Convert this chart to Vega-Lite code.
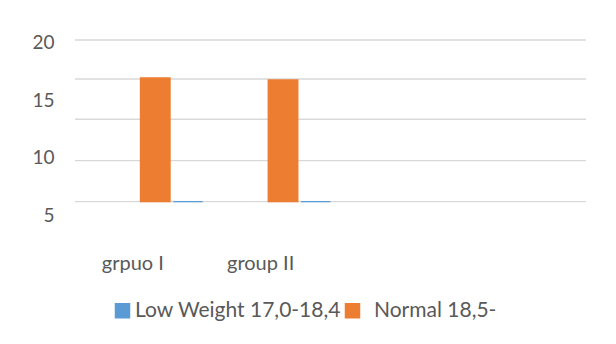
{
  "$schema": "https://vega.github.io/schema/vega-lite/v6.json",
  "width": 511,
  "height": 175,
  "autosize": {"type": "none"},
  "padding": {"left": 75, "top": 40, "right": 30, "bottom": 129},
  "background": "white",
  "config": {"view": {"stroke": null}, "font": "Lato"},
  "layer": [
    {
      "data": {"values": [{"grid": 20.23}, {"grid": 16.84}, {"grid": 13.33}, {"grid": 9.73}, {"grid": 6.16}]},
      "mark": {"type": "rule", "color": "#d9d9d9", "strokeWidth": 1.4},
      "encoding": {
        "y": {
          "field": "grid",
          "type": "quantitative",
          "scale": {"domain": [5, 20.23], "nice": false, "zero": false},
          "axis": {"values": [5, 10, 15, 20], "grid": false, "domain": false, "ticks": false, "tickSize": 0, "labelPadding": 21, "labelFontSize": 19, "labelColor": "#595959", "title": null}
        }
      }
    },
    {
      "data": {
        "values": [
          {"group": "grpuo I", "series": "Low Weight 17,0-18,4", "value": 6.16},
          {"group": "grpuo I", "series": "Normal 18,5-", "value": 16.92},
          {"group": "group II", "series": "Low Weight 17,0-18,4", "value": 6.16},
          {"group": "group II", "series": "Normal 18,5-", "value": 16.75}
        ]
      },
      "mark": {"type": "bar", "strokeWidth": 1.4},
      "encoding": {
        "x": {
          "field": "group",
          "type": "nominal",
          "sort": null,
          "scale": {"domain": ["grpuo I", "group II", " ", "  "], "paddingInner": 0, "paddingOuter": 0},
          "axis": {"title": null, "domain": false, "ticks": false, "tickSize": 0, "labelPadding": 38, "labelFontSize": 20, "labelColor": "#595959", "labelOffset": -6, "labelAngle": 0}
        },
        "xOffset": {
          "field": "series",
          "type": "nominal",
          "scale": {"domain": [" a", " b", "Normal 18,5-", "Low Weight 17,0-18,4"], "paddingInner": 0.1, "paddingOuter": 0}
        },
        "y": {
          "field": "value",
          "type": "quantitative",
          "scale": {"domain": [5, 20.23], "nice": false, "zero": false},
          "axis": {"values": [5, 10, 15, 20], "grid": false, "domain": false, "ticks": false, "tickSize": 0, "labelPadding": 21, "labelFontSize": 19, "labelColor": "#595959", "title": null}
        },
        "y2": {"datum": 6.16},
        "fill": {
          "field": "series",
          "type": "nominal",
          "scale": {"domain": ["Low Weight 17,0-18,4", "Normal 18,5-"], "range": ["#5b9bd5", "#ed7d31"]},
          "legend": {
            "title": null,
            "orient": "none",
            "legendX": 37,
            "legendY": 260,
            "direction": "horizontal",
            "symbolType": "square",
            "symbolSize": 196,
            "labelFontSize": 21,
            "labelColor": "#595959",
            "labelOffset": 2,
            "labelLimit": 400,
            "columnPadding": 0,
            "encode": {
              "labels": {"update": {"dx": {"signal": "datum.value == 'Normal 18,5-' ? 9 : 0"}}}
            }
          }
        },
        "stroke": {
          "field": "series",
          "type": "nominal",
          "scale": {"domain": ["Low Weight 17,0-18,4", "Normal 18,5-"], "range": ["#5b9bd5", "#ed7d31"]},
          "legend": null
        }
      }
    }
  ]
}
